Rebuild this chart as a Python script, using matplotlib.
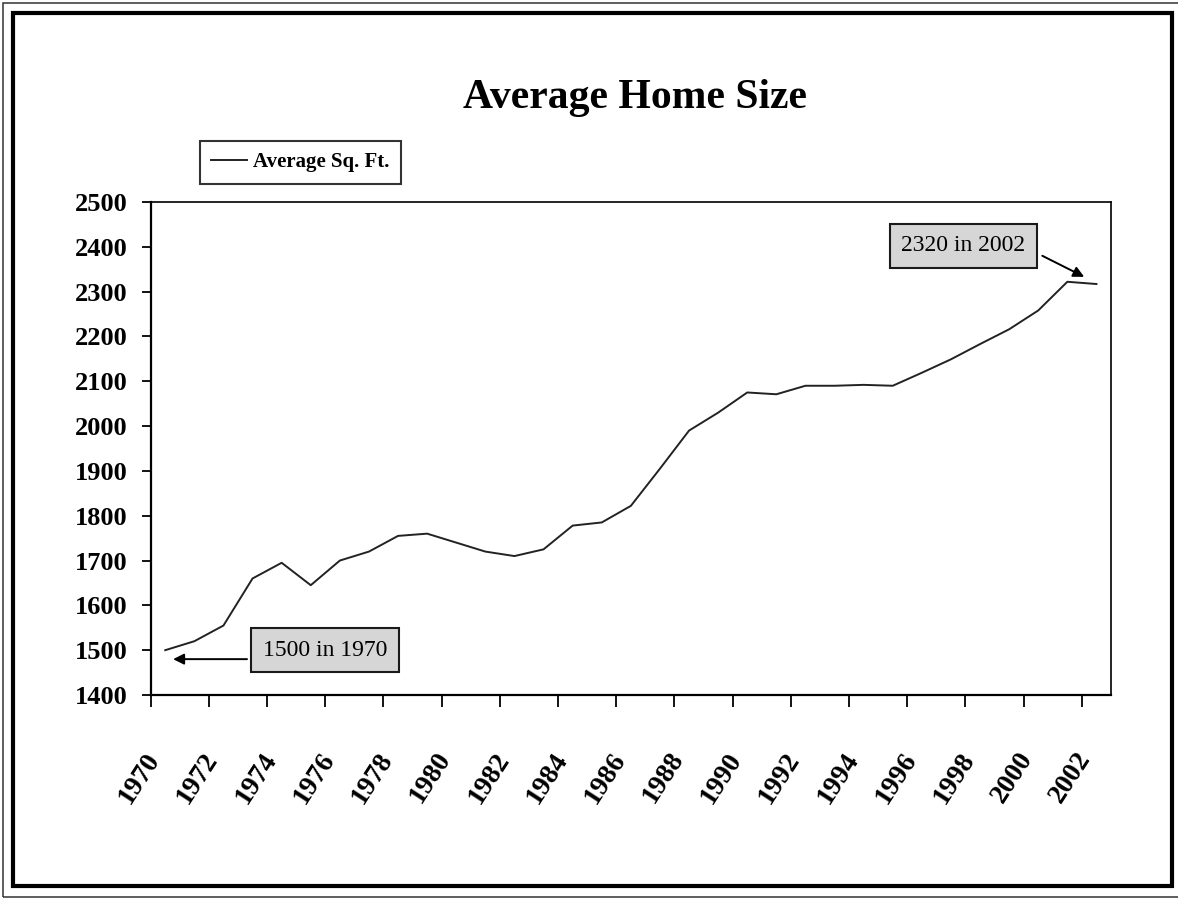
import matplotlib
matplotlib.use('Agg')
import matplotlib.pyplot as plt
from matplotlib.patches import Rectangle
import numpy as np

# average new home size, square feet
years = list(range(1970, 2003))
avg_sqft = [1500, 1520, 1555, 1660, 1695, 1645, 1700, 1720, 1755, 1760,
            1740, 1720, 1710, 1725, 1778, 1785, 1822, 1905, 1990, 2030,
            2075, 2071, 2090, 2090, 2092, 2090, 2119, 2149, 2183, 2216,
            2258, 2322, 2317]
tick_years = years[::2]
y_ticks = list(range(1400, 2501, 100))

note_start = '1500 in 1970'
note_end = '2320 in 2002'

plt.rcParams['font.family'] = ['Liberation Serif', 'DejaVu Serif']

W, H = 1178, 898
fig = plt.figure(figsize=(W / 100, H / 100), dpi=100)
ax = fig.add_axes([150.7 / W, 1 - 695 / H, (1111 - 150.7) / W, (695 - 202) / H])

x = np.arange(len(years))
ax.plot(x, avg_sqft, color='#222222', lw=1.4, label='Average Sq. Ft.')

ax.set_xlim(-0.5, len(years) - 0.5)
ax.set_ylim(y_ticks[0], y_ticks[-1])
ax.set_yticks(y_ticks)

# tick marks sit on category borders, labels on every second category
ax.set_xticks(np.arange(-0.5, len(years), 2), minor=True)
ax.set_xticks(x[::2], labels=[str(y) for y in tick_years])
ax.tick_params(axis='x', which='major', length=0, pad=38, labelsize=20)
ax.tick_params(axis='x', which='minor', length=8.6, width=1.3, direction='out')
ax.tick_params(axis='y', length=6.5, width=1.3, pad=10, labelsize=19)
plt.setp(ax.get_xticklabels(), rotation=57, ha='right', fontweight='bold')
plt.setp(ax.get_yticklabels(), fontweight='bold')

for side in ['left', 'bottom']:
    ax.spines[side].set_linewidth(1.6)
for side in ['top', 'right']:
    ax.spines[side].set_linewidth(1.2)

fig.text(635 / W, 1 - 108 / H, 'Average Home Size', ha='center', va='baseline',
         fontsize=30, fontweight='bold')

leg = ax.legend(loc='upper left', bbox_to_anchor=(200 / W, 1 - 141 / H),
                bbox_transform=fig.transFigure, fancybox=False, edgecolor='black',
                borderaxespad=0, borderpad=0.55, handlelength=1.7, handletextpad=0.3,
                prop=dict(weight='bold', size=15))
leg.get_frame().set_linewidth(1.5)

box = dict(boxstyle='square,pad=0.5', fc='#d6d6d6', ec='#1a1a1a', lw=1.5)
arrow = dict(arrowstyle='-|>', color='black', lw=1.4, mutation_scale=16,
             shrinkA=0, shrinkB=0)

ax.text(5.5, 1500, note_start, ha='center', va='center', fontsize=17, bbox=box)
ax.annotate('', xy=(0.27, 1480), xytext=(2.81, 1480), arrowprops=arrow)

ax.text(27.43, 2402, note_end, ha='center', va='center', fontsize=17, bbox=box)
ax.annotate('', xy=(31.58, 2333), xytext=(30.14, 2380), arrowprops=arrow)

# slide frame: thin outer line, thick inner line
fig.patches.append(Rectangle((3 / W, 1.5 / H), 1.2, (895 - 1.5) / H,
                             transform=fig.transFigure, fill=False, lw=1.1, ec='#333333'))
fig.patches.append(Rectangle((13 / W, 12 / H), (1172 - 13) / W, (886 - 13) / H,
                             transform=fig.transFigure, fill=False, lw=3, ec='black'))

fig.savefig('out.png', dpi=100)
